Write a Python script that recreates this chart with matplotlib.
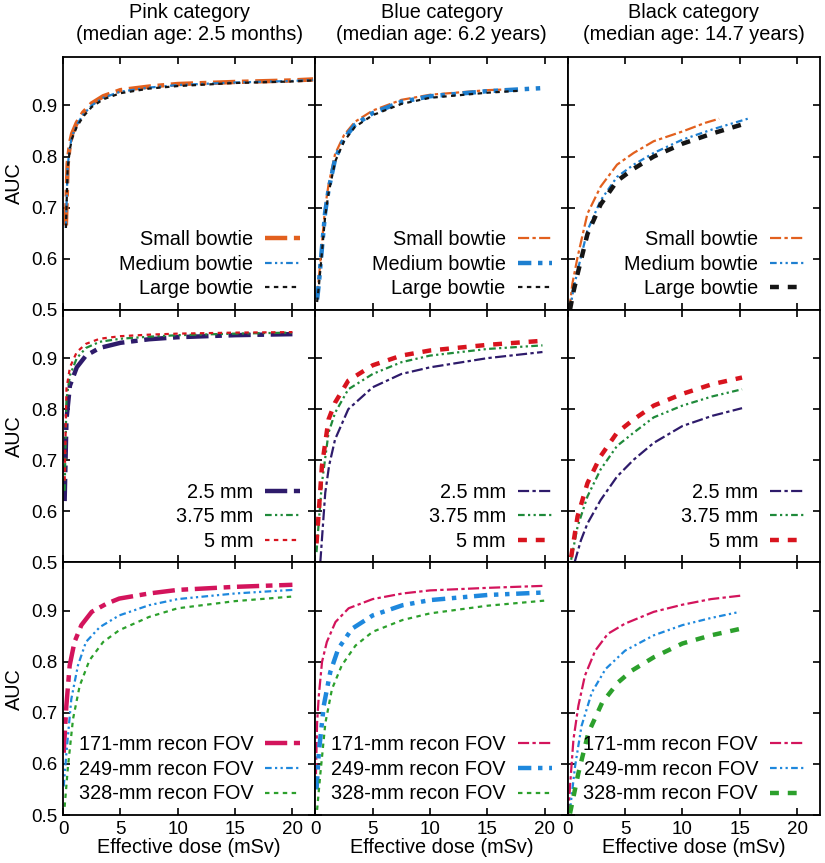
import matplotlib
matplotlib.use("Agg")
import matplotlib.pyplot as plt

plt.rcParams["font.family"] = ["Liberation Sans", "DejaVu Sans"]

# column titles
columns = ["Pink category\n(median age: 2.5 months)",
           "Blue category\n(median age: 6.2 years)",
           "Black category\n(median age: 14.7 years)"]

bowtie_labels = ["Small bowtie", "Medium bowtie", "Large bowtie"]
slice_labels = ["2.5 mm", "3.75 mm", "5 mm"]
fov_labels = ["171-mm recon FOV", "249-mm recon FOV", "328-mm recon FOV"]

# ---- row 1: bowtie ----
pink_bow_x = [0.25, 0.4, 0.6, 0.8, 1.2, 1.75, 2.5, 3.5, 5, 7.5, 10, 15, 20, 21.8]
pink_small_y = [0.665, 0.785, 0.825, 0.845, 0.866, 0.886, 0.904, 0.918, 0.93, 0.937, 0.942, 0.946, 0.949, 0.951]
pink_medium_y = [0.66, 0.78, 0.82, 0.84, 0.862, 0.882, 0.9, 0.915, 0.927, 0.935, 0.94, 0.945, 0.948, 0.95]
pink_large_y = [0.66, 0.775, 0.815, 0.836, 0.858, 0.878, 0.897, 0.912, 0.924, 0.933, 0.938, 0.944, 0.947, 0.949]

blue_small_x = [0.15, 0.3, 0.57, 0.85, 1.15, 1.72, 2.5, 3.45, 5, 7.5, 10, 15, 17.5]
blue_small_y = [0.525, 0.56, 0.63, 0.70, 0.745, 0.805, 0.842, 0.868, 0.89, 0.911, 0.921, 0.93, 0.932]
blue_medium_x = [0.15, 0.3, 0.57, 0.85, 1.15, 1.72, 2.5, 3.45, 5, 7.5, 10, 15, 19.8]
blue_medium_y = [0.52, 0.55, 0.62, 0.69, 0.735, 0.795, 0.835, 0.862, 0.885, 0.907, 0.918, 0.928, 0.934]
blue_large_x = [0.15, 0.3, 0.57, 0.85, 1.15, 1.72, 2.5, 3.45, 5, 7.5, 10, 15, 18]
blue_large_y = [0.515, 0.545, 0.612, 0.682, 0.728, 0.79, 0.83, 0.858, 0.881, 0.903, 0.915, 0.925, 0.929]

black_small_x = [0.15, 0.4, 0.86, 1.72, 2.87, 4.3, 5.75, 7.5, 10, 12, 13.2]
black_small_y = [0.5, 0.55, 0.603, 0.688, 0.741, 0.784, 0.807, 0.83, 0.849, 0.866, 0.874]
black_medium_x = [0.2, 0.5, 0.86, 1.72, 2.87, 4.3, 5.75, 7.5, 10, 12.6, 15.7]
black_medium_y = [0.5, 0.54, 0.576, 0.655, 0.714, 0.76, 0.784, 0.807, 0.833, 0.853, 0.874]
black_large_x = [0.2, 0.5, 0.86, 1.72, 2.87, 4.3, 5.75, 7.5, 10, 12.6, 15.1]
black_large_y = [0.5, 0.535, 0.57, 0.648, 0.706, 0.752, 0.776, 0.8, 0.825, 0.845, 0.862]

# ---- row 2: slice thickness ----
pink_slice_x = [0.14, 0.3, 0.6, 1.2, 2, 3.2, 5, 7.5, 10, 15, 20]
pink_25_y = [0.62, 0.78, 0.846, 0.882, 0.905, 0.92, 0.93, 0.937, 0.941, 0.945, 0.947]
pink_375_y = [0.64, 0.82, 0.866, 0.9, 0.92, 0.932, 0.938, 0.942, 0.945, 0.948, 0.95]
pink_5_y = [0.66, 0.84, 0.882, 0.912, 0.928, 0.938, 0.943, 0.946, 0.948, 0.95, 0.951]

blue_25_x = [0.43, 0.86, 1.2, 1.72, 2.87, 5, 7.5, 10, 15, 19.8]
blue_25_y = [0.5, 0.636, 0.69, 0.741, 0.80, 0.843, 0.869, 0.882, 0.9, 0.912]
blue_slice_x = [0.1, 0.3, 0.57, 1.15, 1.72, 2.87, 5, 7.5, 10, 15, 19.8]
blue_375_y = [0.52, 0.58, 0.655, 0.754, 0.793, 0.839, 0.869, 0.892, 0.905, 0.918, 0.925]
blue_5_y = [0.537, 0.6, 0.688, 0.78, 0.813, 0.856, 0.886, 0.905, 0.915, 0.926, 0.934]

black_25_x = [0.6, 1.15, 1.72, 2.87, 4.3, 5.75, 7.5, 10, 12.6, 15.2]
black_25_y = [0.5, 0.543, 0.576, 0.622, 0.668, 0.701, 0.734, 0.767, 0.787, 0.802]
black_slice_x = [0.3, 0.86, 1.72, 2.87, 4.3, 5.75, 7.5, 10, 12.6, 15.2]
black_375_y = [0.505, 0.57, 0.629, 0.682, 0.728, 0.754, 0.784, 0.807, 0.825, 0.839]
black_5_y = [0.51, 0.59, 0.655, 0.708, 0.754, 0.78, 0.807, 0.83, 0.849, 0.862]

# ---- row 3: recon FOV ----
pink_171_x = [0.06, 0.29, 0.58, 1.0, 1.6, 2.5, 3.8, 4.9, 7.5, 10, 15, 20]
pink_171_y = [0.622, 0.714, 0.793, 0.839, 0.872, 0.898, 0.914, 0.924, 0.934, 0.941, 0.947, 0.951]
pink_249_x = [0.06, 0.29, 0.72, 1.3, 2.0, 3.2, 4.9, 7.5, 10, 15, 20]
pink_249_y = [0.556, 0.62, 0.727, 0.793, 0.839, 0.868, 0.891, 0.911, 0.923, 0.934, 0.941]
pink_328_x = [0.14, 0.43, 0.87, 1.45, 2.3, 3.5, 4.9, 7.5, 10, 15, 20]
pink_328_y = [0.516, 0.595, 0.688, 0.753, 0.803, 0.839, 0.862, 0.888, 0.905, 0.919, 0.928]

blue_171_x = [0.05, 0.15, 0.3, 0.58, 1.0, 1.75, 2.9, 5, 7.6, 10, 15, 20]
blue_171_y = [0.58, 0.68, 0.734, 0.8, 0.839, 0.878, 0.905, 0.923, 0.934, 0.94, 0.945, 0.949]
blue_249_x = [0.1, 0.3, 0.73, 1.3, 2.0, 3.2, 5, 7.6, 10, 15, 20]
blue_249_y = [0.55, 0.622, 0.714, 0.78, 0.826, 0.865, 0.891, 0.911, 0.921, 0.931, 0.936]
blue_328_x = [0.15, 0.44, 0.87, 1.45, 2.3, 3.5, 5, 7.6, 10, 15, 20]
blue_328_y = [0.51, 0.582, 0.68, 0.747, 0.793, 0.832, 0.859, 0.882, 0.895, 0.91, 0.92]

black_171_x = [0.05, 0.2, 0.5, 0.93, 1.5, 2.4, 3.5, 5, 7.5, 10, 12.5, 15.2]
black_171_y = [0.5, 0.556, 0.648, 0.714, 0.773, 0.822, 0.855, 0.875, 0.898, 0.912, 0.923, 0.93]
black_249_x = [0.2, 0.64, 1.2, 2.1, 3.3, 5, 7.5, 10, 12.5, 15]
black_249_y = [0.51, 0.595, 0.674, 0.74, 0.786, 0.822, 0.852, 0.872, 0.886, 0.898]
black_328_x = [0.2, 0.93, 1.8, 3.0, 4.4, 5.6, 7.5, 10, 12.5, 15.1]
black_328_y = [0.503, 0.582, 0.661, 0.72, 0.76, 0.783, 0.809, 0.836, 0.852, 0.865]

# styles per row: colours and dash patterns for the three series
row_colors = [["#e2601e", "#1e7fd0", "#151515"],
              ["#2e1b6b", "#1f8a3a", "#d8141e"],
              ["#d3145c", "#1e88dd", "#2ca02c"]]
row_dashes = [(0, (5, 1.5, 1.5, 1.5)), (0, (3, 1.5, 1, 1.5, 1, 1.5)), (0, (2, 2))]
# which series is drawn thick in each panel (row, col)
thick = [[0, 1, 2],
         [0, 2, 2],
         [0, 1, 2]]

panels = [
    [[(pink_bow_x, pink_small_y), (pink_bow_x, pink_medium_y), (pink_bow_x, pink_large_y)],
     [(blue_small_x, blue_small_y), (blue_medium_x, blue_medium_y), (blue_large_x, blue_large_y)],
     [(black_small_x, black_small_y), (black_medium_x, black_medium_y), (black_large_x, black_large_y)]],
    [[(pink_slice_x, pink_25_y), (pink_slice_x, pink_375_y), (pink_slice_x, pink_5_y)],
     [(blue_25_x, blue_25_y), (blue_slice_x, blue_375_y), (blue_slice_x, blue_5_y)],
     [(black_25_x, black_25_y), (black_slice_x, black_375_y), (black_slice_x, black_5_y)]],
    [[(pink_171_x, pink_171_y), (pink_249_x, pink_249_y), (pink_328_x, pink_328_y)],
     [(blue_171_x, blue_171_y), (blue_249_x, blue_249_y), (blue_328_x, blue_328_y)],
     [(black_171_x, black_171_y), (black_249_x, black_249_y), (black_328_x, black_328_y)]],
]
row_labels = [bowtie_labels, slice_labels, fov_labels]

fig, axes = plt.subplots(3, 3, figsize=(8.25, 8.63), dpi=100, sharex=True, sharey=True)
fig.subplots_adjust(left=0.0764, right=0.994, top=0.934, bottom=0.0556, wspace=0, hspace=0)

for r in range(3):
    for c in range(3):
        ax = axes[r, c]
        for k, (xs, ys) in enumerate(panels[r][c]):
            lw = 3.2 if thick[r][c] == k else 1.6
            ax.plot(xs, ys, color=row_colors[r][k], linestyle=row_dashes[k], lw=lw,
                    label=row_labels[r][k])
        ax.set_xlim(0, 22)
        ax.set_ylim(0.5, 0.995)
        ax.set_xticks([0, 5, 10, 15, 20])
        ax.set_yticks([0.5, 0.6, 0.7, 0.8, 0.9])
        ax.tick_params(direction="in", length=5, width=1.2, top=True, right=True,
                       labelsize=13.5, pad=4)
        for s in ax.spines.values():
            s.set_linewidth(1.3)
        ax.legend(loc="lower right", bbox_to_anchor=(0.955, 0.03), frameon=False,
                  markerfirst=False, fontsize=14.3, handlelength=1.75,
                  handletextpad=0.6, labelspacing=0.28, borderaxespad=0, borderpad=0.2)
        if r == 0:
            ax.set_title(columns[c], fontsize=14.3, pad=12, linespacing=1.2)
        if r == 2:
            ax.set_xlabel("Effective dose (mSv)", fontsize=14.3, labelpad=0)
        if c == 0:
            ax.set_ylabel("AUC", fontsize=14.3, labelpad=5)
            ax.set_yticklabels(["0.5", "0.6", "0.7", "0.8", "0.9"])

fig.savefig("out.png", dpi=100)
